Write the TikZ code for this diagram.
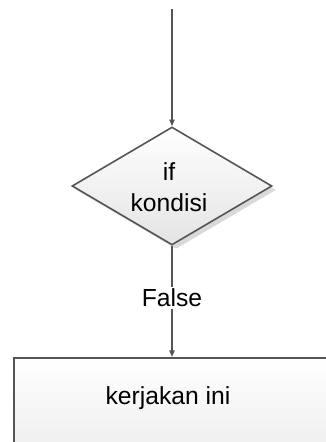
\documentclass[tikz,border=0pt]{standalone}
\usepackage{fontspec}
\setmainfont{Liberation Sans}
\usetikzlibrary{shapes.geometric,arrows.meta,shadows}
\definecolor{linec}{HTML}{555555}
\definecolor{fillbot}{HTML}{E4E4E4}
\definecolor{boxbot}{HTML}{EDEDED}
\tikzset{
  flowline/.style={draw=linec, line width=1.1pt, -{Triangle[length=5pt,width=4pt]}},
  decision/.style={shape=diamond, draw=linec, line width=1.2pt, inner sep=0pt,
     minimum width=150pt, minimum height=88.5pt,
     top color=white, bottom color=fillbot,
     drop shadow={shadow xshift=3pt, shadow yshift=-3pt, fill=black!25, opacity=0.6}},
  process/.style={shape=rectangle, draw=linec, line width=1.2pt, inner sep=0pt,
     minimum width=260pt, minimum height=75pt,
     top color=white, bottom color=boxbot},
  txt/.style={font=\fontsize{18.5}{23.5}\selectfont, align=center, text=black},
  lbl/.style={txt, fill=white, draw=none, inner sep=1.5pt}
}
\begin{document}
\begin{tikzpicture}[x=0.75pt,y=-0.75pt]
  \useasboundingbox (0,0) rectangle (325,442);
  \coordinate (s) at (172,9);
  \node[decision] (d) at (172,186) {};
  \node[txt] (dt) at (169,187) {if\\kondisi};
  \node[process, anchor=north west] (r) at (13,357) {};
  \node[txt] (rt) at (168,398) {kerjakan ini};
  \draw[flowline] (s) -- (d.north);
  \draw[flowline] (d.south) -- (d.south |- r.north);
  \path (d.south) -- (d.south |- r.north) node[lbl, pos=0.47] (f) {False};
\end{tikzpicture}
\end{document}
